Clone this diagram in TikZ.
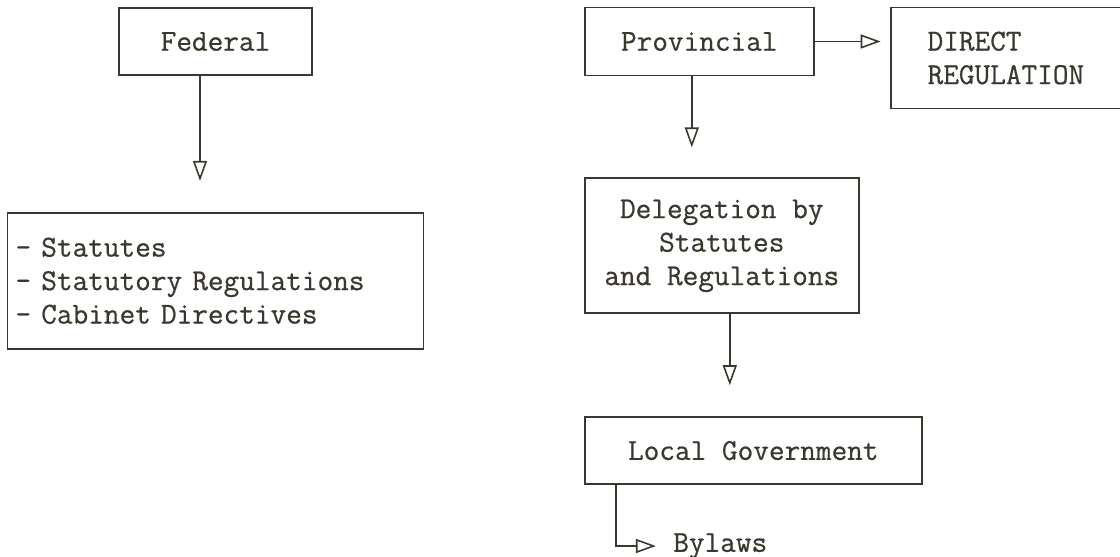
\documentclass[tikz,border=0pt]{standalone}
\usepackage{fontspec}
\usepackage{tikz}
\usetikzlibrary{arrows.meta,positioning}
\definecolor{typeink}{HTML}{3A382E}
\newfontfamily\typewriter{Latin Modern Mono}[FakeBold=0.6]

\begin{document}
\begin{tikzpicture}[
  box/.style={draw=typeink, rectangle, line width=0.9pt, text=typeink,
              minimum height=33.5pt, inner xsep=4pt,
              font=\fontsize{15.2pt}{16.75pt}\selectfont\typewriter, align=center},
  arr/.style={-{Triangle[open, length=10pt, width=7pt]}, draw=typeink, line width=0.8pt},
  node distance=50pt
]
  \useasboundingbox (0,0) rectangle (560pt,-278.5pt);

  %% Federal side
  \node[box, minimum width=96.5pt] (federal) at (107.75pt,-20.75pt) {Federal};
  \node[box, below=68pt of federal, minimum height=68pt,
        text width=200pt, align=left] (statutes)
    {- Statutes\\- Statutory Regulations\\- Cabinet Directives};

  %% Provincial side
  \node[box, minimum width=114.5pt, minimum height=34pt,
        right=135.5pt of federal] (provincial) {Provincial};
  \node[box, minimum height=50.5pt, inner xsep=18.5pt, text width=82pt,
        align=left, right=37.5pt of provincial.north east, anchor=north west] (direct)
    {DIRECT\\REGULATION\\[4pt]};
  \node[box, minimum width=137pt, minimum height=67.5pt,
        below=50.5pt of provincial.south west, anchor=north west] (delegation)
    {Delegation by\\Statutes\\and Regulations};
  \node[box, minimum width=168.5pt,
        below=51pt of delegation.south west, anchor=north west] (local)
    {Local Government};
  \node[anchor=west, inner sep=0pt, text=typeink,
        font=\fontsize{15.2pt}{16.75pt}\selectfont\typewriter]
    (bylaws) at ([xshift=44.5pt, yshift=-30.5pt]local.south west) {Bylaws};

  %% Arrows
  \draw[arr, shorten >=15.5pt] ([xshift=-7.75pt]federal.south)
    -- ([xshift=-7.75pt]federal.south |- statutes.north);
  \draw[arr, shorten >=4.5pt] (provincial.east) -- (provincial.east -| direct.west);
  \draw[arr, shorten >=15pt] ([xshift=-3.75pt]provincial.south)
    -- ([xshift=-3.75pt]provincial.south |- delegation.north);
  \draw[arr, shorten >=15.5pt] ([xshift=4pt]delegation.south)
    -- ([xshift=4pt]delegation.south |- local.north);
  \draw[arr, shorten >=8.5pt] ([xshift=16pt]local.south west) |- (bylaws.west);
\end{tikzpicture}
\end{document}
